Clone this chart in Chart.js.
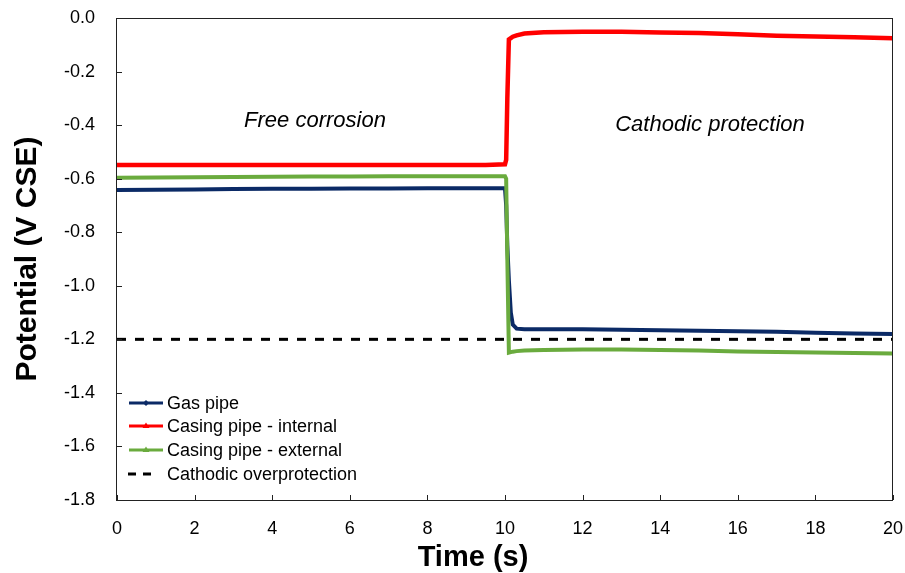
<!DOCTYPE html>
<html>
<head>
<meta charset="utf-8">
<script src="https://cdn.jsdelivr.net/npm/chart.js@4/dist/chart.umd.min.js"></script>
<style>
html, body { margin: 0; padding: 0; background: #fff; }
</style>
</head>
<body>
<canvas id="line-chart" width="905" height="573"></canvas>
<script>
// sample times (s), denser around the switch-on at 10 s
const time = [0, 1, 2, 3, 4, 5, 6, 7, 8, 9, 9.5, 10, 10.03, 10.06, 10.1, 10.15, 10.2, 10.3, 10.5, 11, 12, 13, 14, 15, 16, 17, 18, 19, 20];

const gasPipe = [-0.642, -0.641, -0.640, -0.639, -0.638, -0.638, -0.637, -0.637, -0.636, -0.636, -0.636, -0.636,
  -0.700, -0.850, -0.980, -1.100, -1.145, -1.160, -1.162, -1.162, -1.162, -1.164, -1.166, -1.168, -1.170, -1.172, -1.175, -1.178, -1.180];

const casingInternal = [-0.549, -0.549, -0.549, -0.549, -0.549, -0.549, -0.549, -0.549, -0.549, -0.549, -0.549, -0.546,
  -0.530, -0.300, -0.080, -0.075, -0.070, -0.065, -0.058, -0.053, -0.051, -0.051, -0.054, -0.056, -0.061, -0.066, -0.069, -0.072, -0.076];

const casingExternal = [-0.597, -0.596, -0.595, -0.594, -0.593, -0.592, -0.592, -0.591, -0.591, -0.591, -0.591, -0.591,
  -0.600, -0.900, -1.250, -1.248, -1.246, -1.244, -1.242, -1.240, -1.238, -1.238, -1.240, -1.242, -1.245, -1.247, -1.249, -1.251, -1.253];

const overTime = [0, 20];
const overLimit = [-1.2, -1.2];

const seriesNames = ['Gas pipe', 'Casing pipe - internal', 'Casing pipe - external', 'Cathodic overprotection'];
const seriesColors = ['#0b2a66', '#ff0000', '#6aab3e', '#000000'];

const FONT = "'Liberation Sans', Arial, sans-serif";

function pts(xs, ys) {
  return xs.map((x, i) => ({ x: x, y: ys[i] }));
}

function marker(ctx, kind, x, y, color) {
  ctx.fillStyle = color;
  ctx.beginPath();
  if (kind === 'diamond') {
    ctx.moveTo(x, y - 3); ctx.lineTo(x + 3, y); ctx.lineTo(x, y + 3); ctx.lineTo(x - 3, y);
  } else if (kind === 'triangle') {
    ctx.moveTo(x, y - 3.5); ctx.lineTo(x + 3.5, y + 2); ctx.lineTo(x - 3.5, y + 2);
  }
  ctx.closePath();
  ctx.fill();
}

const decor = {
  id: 'decor',
  afterDraw(chart) {
    const ctx = chart.ctx;
    const a = chart.chartArea;
    const xs = chart.scales.x, ys = chart.scales.y;
    ctx.save();

    // plot area border
    ctx.strokeStyle = '#222';
    ctx.lineWidth = 1;
    ctx.strokeRect(Math.round(a.left) - 0.5, Math.round(a.top) + 0.5, Math.round(a.right - a.left), Math.round(a.bottom - a.top));

    // inward tick marks
    ctx.beginPath();
    xs.ticks.forEach(t => {
      const px = Math.round(xs.getPixelForValue(t.value)) + 0.5;
      ctx.moveTo(px, a.bottom); ctx.lineTo(px, a.bottom - 5);
    });
    ys.ticks.forEach(t => {
      const py = Math.round(ys.getPixelForValue(t.value)) + 0.5;
      ctx.moveTo(a.left, py); ctx.lineTo(a.left + 5, py);
    });
    ctx.stroke();

    // x axis title (sits a little left of centre in the original)
    ctx.fillStyle = '#000';
    ctx.font = 'bold 29px ' + FONT;
    ctx.textAlign = 'center';
    ctx.textBaseline = 'alphabetic';
    ctx.fillText('Time (s)', 473, 566);

    // region labels
    ctx.font = 'italic 22px ' + FONT;
    ctx.textBaseline = 'middle';
    ctx.fillText('Free corrosion', 315, 121);
    ctx.fillText('Cathodic protection', 710, 125);

    // legend inside the plot
    const rows = [403, 426, 450, 474];
    const kinds = ['diamond', 'triangle', 'triangle', 'dash'];
    ctx.font = '18px ' + FONT;
    ctx.textAlign = 'left';
    rows.forEach((ry, i) => {
      const c = seriesColors[i];
      ctx.strokeStyle = c;
      ctx.beginPath();
      if (kinds[i] === 'dash') {
        ctx.lineWidth = 3;
        ctx.moveTo(128, ry); ctx.lineTo(136, ry);
        ctx.moveTo(143, ry); ctx.lineTo(151, ry);
      } else {
        ctx.lineWidth = 3;
        ctx.moveTo(129, ry); ctx.lineTo(163, ry);
      }
      ctx.stroke();
      if (kinds[i] !== 'dash') marker(ctx, kinds[i], 146, ry, c);
      ctx.fillStyle = '#000';
      ctx.fillText(seriesNames[i], 167, ry + 1);
    });
    ctx.restore();
  }
};

new Chart(document.getElementById('line-chart'), {
  type: 'line',
  data: {
    datasets: [{
        label: seriesNames[0],
        data: pts(time, gasPipe),
        borderColor: seriesColors[0],
        borderWidth: 4,
        order: 3
      }, {
        label: seriesNames[1],
        data: pts(time, casingInternal),
        borderColor: seriesColors[1],
        borderWidth: 4.5,
        order: 2
      }, {
        label: seriesNames[2],
        data: pts(time, casingExternal),
        borderColor: seriesColors[2],
        borderWidth: 4,
        order: 1
      }, {
        label: seriesNames[3],
        data: pts(overTime, overLimit),
        borderColor: seriesColors[3],
        borderWidth: 3,
        borderDash: [9, 9],
        order: 0
      }
    ]
  },
  options: {
    responsive: false,
    animation: false,
    devicePixelRatio: 1,
    elements: { point: { radius: 0 }, line: { tension: 0, fill: false } },
    layout: { padding: { top: 18, right: 12, left: 0, bottom: 0 } },
    plugins: {
      legend: { display: false },
      tooltip: { enabled: false }
    },
    scales: {
      x: {
        type: 'linear',
        min: 0, max: 20,
        grid: { display: false },
        border: { display: false },
        ticks: { stepSize: 2, color: '#000', font: { family: FONT, size: 18 }, padding: 10, maxRotation: 0 },
        afterFit(s) { s.height = 73; s.paddingLeft = 0; s.paddingRight = 0; }
      },
      y: {
        min: -1.8, max: 0,
        grid: { display: false },
        border: { display: false },
        ticks: { stepSize: 0.2, color: '#000', font: { family: FONT, size: 18 }, padding: 14,
          callback: v => Number(v).toFixed(1) },
        title: { display: true, text: 'Potential (V CSE)', color: '#000', font: { family: FONT, size: 30, weight: 'bold' }, padding: { top: 10, bottom: 0 } },
        afterFit(s) { s.width = 117; s.paddingTop = 0; s.paddingBottom = 0; }
      }
    }
  },
  plugins: [decor]
});
</script>
</body>
</html>
